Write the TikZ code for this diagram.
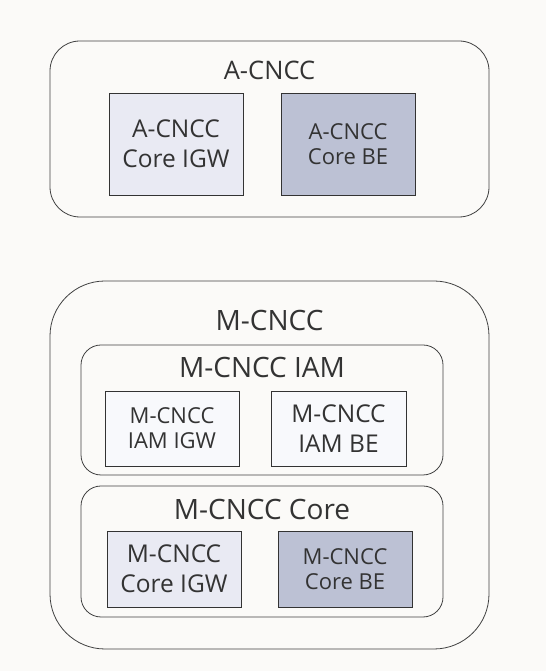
\documentclass[tikz,border=0pt]{standalone}
\usepackage{fontspec}
\setmainfont{Open Sans}
\begin{document}
\begin{tikzpicture}[x=1pt,y=1pt,
  txt/.style={text=black!80},
  container/.style={draw=black!75, line width=0.8pt, fill=bgc, rectangle, rounded corners=#1, inner sep=0pt},
  comp/.style={draw=black!80, line width=0.9pt, rectangle, inner sep=0pt, minimum width=134pt, align=center, text=black!80},
  big/.style={font=\fontsize{24.5}{30}\selectfont},
  small/.style={font=\fontsize{22}{25}\selectfont},
  ttl/.style={text=black!80, inner sep=0pt, anchor=center}
]
\definecolor{bgc}{HTML}{FBFAF8}
\definecolor{lightc}{HTML}{E9EAF3}
\definecolor{darkc}{HTML}{BCC1D4}
\definecolor{iamc}{HTML}{F8F9FC}
\useasboundingbox[fill=bgc] (0,0) rectangle (546,671);
% A-CNCC
\node[container=30pt, minimum width=439pt, minimum height=176pt] (aout) at (269.5,542) {};
\node[ttl, font=\fontsize{25.5}{28}\selectfont] (atitle) at (269.5,601) {A-CNCC};
\node[comp, big, fill=lightc, minimum height=102pt] (aigw) at (176,527) {A-CNCC\\Core IGW};
\node[comp, small, fill=darkc, minimum height=102pt] (abe) at (348,527) {A-CNCC\\Core BE};
% M-CNCC
\node[container=55pt, minimum width=439pt, minimum height=368pt] (mout) at (269.5,206) {};
\node[ttl, font=\fontsize{28}{30}\selectfont] (mtitle) at (269.5,350) {M-CNCC};
\node[container=20pt, minimum width=362pt, minimum height=130pt] (iam) at (262,261) {};
\node[ttl, font=\fontsize{28}{30}\selectfont] (iamtitle) at (262,303) {M-CNCC IAM};
\node[comp, small, fill=iamc, minimum height=75pt] (iamigw) at (172,242.5) {M-CNCC\\IAM IGW};
\node[comp, big, fill=iamc, minimum height=75pt, minimum width=135pt] (iambe) at (338.5,242.5) {M-CNCC\\IAM BE};
\node[container=20pt, minimum width=362pt, minimum height=131pt] (core) at (262,119.5) {};
\node[ttl, font=\fontsize{28}{30}\selectfont] (coretitle) at (262,161) {M-CNCC Core};
\node[comp, big, fill=lightc, minimum height=76pt] (coreigw) at (174,102) {M-CNCC\\Core IGW};
\node[comp, small, fill=darkc, minimum height=76pt] (corebe) at (345,102) {M-CNCC\\Core BE};
\end{tikzpicture}
\end{document}
